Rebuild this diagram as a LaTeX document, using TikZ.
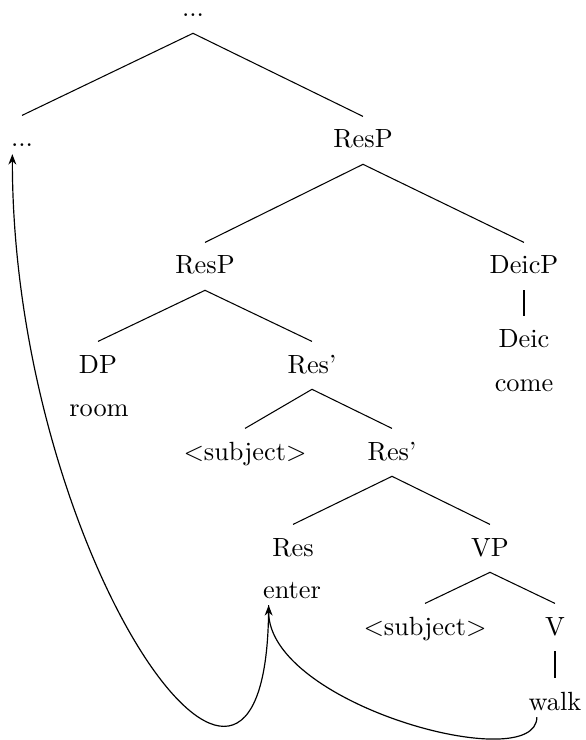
\documentclass[tikz,border=0pt]{standalone}
\usetikzlibrary{arrows.meta}
\tikzset{
  tn/.style={anchor=base, inner sep=0pt, text height=11.8pt, text depth=6pt},
  leaf/.style={anchor=base, inner sep=0pt, text height=11.8pt, text depth=2.5pt},
  rootn/.style={anchor=base, inner sep=0pt, text height=3pt, text depth=6pt},
  br/.style={draw, line width=0.4pt},
  arr/.style={draw, line width=0.45pt, -{Stealth[length=4pt,width=3pt]}}
}
\begin{document}
\begin{tikzpicture}[x=0.38pt, y=-0.38pt]
\useasboundingbox (0,0) rectangle (585,740);
% nodes
\node[rootn] (top) at (193,17) {...};
\node[leaf] (dotsL) at (22,147) {...};
\node[tn] (resp1) at (363,148) {ResP};
\node[tn] (resp2) at (205,274) {ResP};
\node[tn] (deicp) at (524,274) {DeicP};
\node[tn] (deic) at (524,348) {Deic};
\node[leaf] (come) at (524,391) {come};
\node[tn] (dp) at (98,373) {DP};
\node[leaf] (room) at (99,416) {room};
\node[tn] (resb1) at (312,373) {Res'};
\node[tn] (subj1) at (245,460) {$<$subject$>$};
\node[tn] (resb2) at (392,460) {Res'};
\node[tn] (res) at (293,556) {Res};
\node[leaf] (enter) at (292,598) {enter};
\node[tn] (vp) at (490,556) {VP};
\node[tn] (subj2) at (425,635) {$<$subject$>$};
\node[tn] (v) at (555,635) {V};
\node[leaf] (walk) at (555,710) {walk};
% branches
\draw[br] (dotsL.north) -- (top.south) -- (resp1.north);
\draw[br] (resp2.north) -- (resp1.south) -- (deicp.north);
\draw[br] (dp.north) -- (resp2.south) -- (resb1.north);
\draw[br] (deicp.south) -- (deic.north);
\draw[br] (subj1.north) -- (resb1.south) -- (resb2.north);
\draw[br] (res.north) -- (resb2.south) -- (vp.north);
\draw[br] (subj2.north) -- (vp.south) -- (v.north);
\draw[br] (v.south) -- (walk.north);
% movement arrows
\draw[arr] ([xshift=3.3pt]walk.south west) .. controls +(0,60) and +(0,100) .. ([xshift=2.3pt]enter.south west);
\draw[arr] ([xshift=2.3pt]enter.south west) .. controls +(0,320) and +(0,400) .. ([xshift=0.7pt]dotsL.south west);
\end{tikzpicture}
\end{document}
